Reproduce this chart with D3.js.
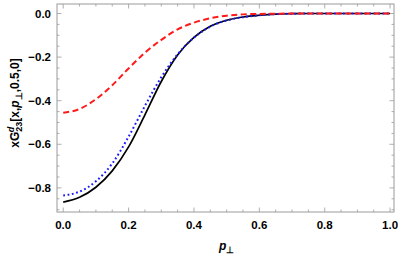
<!DOCTYPE html>
<html>
<head>
<meta charset="utf-8">
<script src="https://cdn.jsdelivr.net/npm/d3@7"></script>
<style>
  body { margin: 0; background: #fff; }
  svg text { font-family: "Liberation Sans", Arial, sans-serif; font-weight: bold; }
</style>
</head>
<body>
<div class="chart"></div>
<script>
// p_perp samples and curve values
var pPerp = [0, 0.05, 0.1, 0.15, 0.2, 0.25, 0.3, 0.35, 0.4, 0.45, 0.5, 0.55, 0.6, 0.65, 0.7, 0.75, 0.8, 0.85, 0.9, 0.95, 1.0];
var solidBlack = [-0.865, -0.843, -0.797, -0.722, -0.612, -0.465, -0.312, -0.190, -0.110, -0.059, -0.031, -0.016, -0.008, -0.003, -0.001, 0, 0, 0, 0, 0, 0];
var dottedBlue = [-0.835, -0.817, -0.770, -0.688, -0.565, -0.424, -0.292, -0.187, -0.111, -0.060, -0.032, -0.017, -0.008, -0.003, -0.001, 0, 0, 0, 0, 0, 0];
var dashedRed = [-0.455, -0.438, -0.393, -0.329, -0.252, -0.180, -0.121, -0.073, -0.042, -0.022, -0.010, -0.004, -0.002, -0.001, 0, 0, 0, 0, 0, 0, 0];
var xTicks = [0, 0.2, 0.4, 0.6, 0.8, 1.0];
var yTicks = [0, -0.2, -0.4, -0.6, -0.8];

var margin = { top: 4, right: 4, bottom: 46, left: 57 };
var width = 398 - margin.left - margin.right;
var height = 258 - margin.top - margin.bottom;

var svg = d3.select('.chart')
  .append('svg')
    .attr('width', 398)
    .attr('height', 258)
  .append('g')
    .attr('transform', 'translate(' + margin.left + ',' + margin.top + ')');

var xScale = d3.scaleLinear().domain([-0.019, 1.012]).range([0, width]);
var yScale = d3.scaleLinear().domain([-0.9106, 0.0436]).range([height, 0]);

var frameColor = '#9a9a9a';
var fmt = function (d) { return d3.format('.1f')(d).replace('-', '\u2212'); };

// minor ticks every 0.05
var xMinor = d3.range(0, 1.0001, 0.05);
var yMinor = d3.range(-0.9, 0.0001, 0.05);

function isMajor(v) { return Math.abs(v * 5 - Math.round(v * 5)) < 1e-6; }

// frame
svg.append('rect')
  .attr('width', width)
  .attr('height', height)
  .attr('fill', 'none')
  .attr('stroke', frameColor)
  .attr('stroke-width', 1);

var ticks = svg.append('g').attr('stroke', frameColor).attr('stroke-width', 0.8);
xMinor.forEach(function (v) {
  var len = isMajor(v) ? 4.5 : 2.5;
  var x = xScale(v);
  ticks.append('line').attr('x1', x).attr('x2', x).attr('y1', height).attr('y2', height - len);
  ticks.append('line').attr('x1', x).attr('x2', x).attr('y1', 0).attr('y2', len);
});
yMinor.forEach(function (v) {
  var len = isMajor(v) ? 4.5 : 2.5;
  var y = yScale(v);
  ticks.append('line').attr('x1', 0).attr('x2', len).attr('y1', y).attr('y2', y);
  ticks.append('line').attr('x1', width).attr('x2', width - len).attr('y1', y).attr('y2', y);
});

// tick labels
svg.selectAll('.xlab')
  .data(xTicks)
  .enter()
  .append('text')
    .attr('x', d => xScale(d))
    .attr('y', height + 17)
    .attr('text-anchor', 'middle')
    .attr('font-size', 11.5)
    .text(fmt);

svg.selectAll('.ylab')
  .data(yTicks)
  .enter()
  .append('text')
    .attr('x', -6)
    .attr('y', d => yScale(d) + 4)
    .attr('text-anchor', 'end')
    .attr('font-size', 11.5)
    .text(fmt);

// curves
var rows = pPerp.map(function (p, i) {
  return { p: p, black: solidBlack[i], blue: dottedBlue[i], red: dashedRed[i] };
});

var plot = svg.append('g');

function drawCurve(key, color, widthPx, dash) {
  var line = d3.line()
    .x(d => xScale(d.p))
    .y(d => yScale(d[key]))
    .curve(d3.curveMonotoneX);
  plot.append('path')
    .datum(rows)
    .attr('d', line)
    .attr('fill', 'none')
    .attr('stroke', color)
    .attr('stroke-width', widthPx)
    .attr('stroke-dasharray', dash);
}

drawCurve('black', '#000000', 1.7, null);
drawCurve('blue', '#1a1aff', 2, '1.8,2.6');
drawCurve('red', '#ff1a1a', 2, '6,3.5');

// axis titles
var yTitle = svg.append('text')
  .attr('transform', 'translate(' + (-38) + ',' + (height / 2 - 5) + ') rotate(-90)')
  .attr('text-anchor', 'middle')
  .attr('font-size', 12);
yTitle.append('tspan').text('xG');
yTitle.append('tspan').attr('font-size', 9).attr('font-style', 'italic').attr('dy', -5).attr('dx', -0.5).text('d');
yTitle.append('tspan').attr('font-size', 9).attr('dy', 8).attr('dx', -5).text('23');
yTitle.append('tspan').attr('dy', -3).text('[x,');
yTitle.append('tspan').attr('font-style', 'italic').text('p');
yTitle.append('tspan').attr('font-size', 8.5).attr('dy', 3).text('\u22A5');
yTitle.append('tspan').attr('dy', -3).text(',0.5,0]');

var xTitle = svg.append('text')
  .attr('x', xScale(0.5))
  .attr('y', height + 38)
  .attr('text-anchor', 'middle')
  .attr('font-size', 12);
xTitle.append('tspan').attr('font-style', 'italic').text('p');
xTitle.append('tspan').attr('font-size', 8.5).attr('dy', 3).text('\u22A5');
</script>
</body>
</html>
